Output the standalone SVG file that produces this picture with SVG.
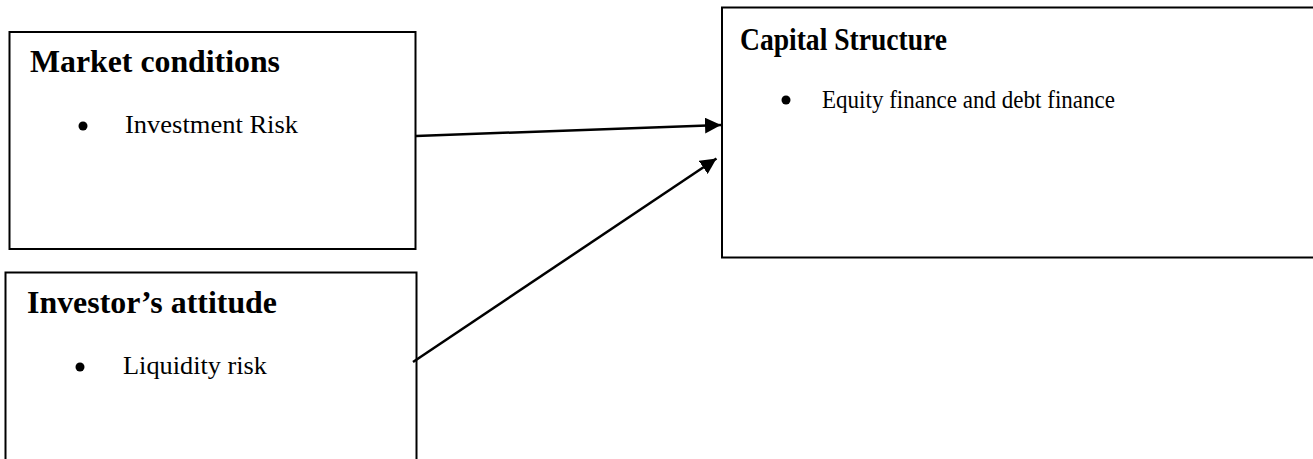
<svg xmlns="http://www.w3.org/2000/svg" width="1313" height="459" viewBox="0 0 1313 459">
<defs>
<style>
.box{fill:#fff;stroke:#000;stroke-width:2}
.h{font-family:"Liberation Serif","Times New Roman",serif;font-weight:bold;font-size:31px;fill:#000}
.b{font-family:"Liberation Serif","Times New Roman",serif;font-size:26px;fill:#000}
.conn{stroke:#000;stroke-width:2.5;fill:none}
</style>
<marker id="ah" viewBox="0 0 10 10" refX="10" refY="5" markerUnits="userSpaceOnUse" markerWidth="16" markerHeight="16" orient="auto">
<path d="M0,0 L10,5 L0,10 z" fill="#000"/>
</marker>
</defs>
<rect width="1313" height="459" fill="#fff"/>
<g id="market">
<rect class="box" x="9.5" y="32" width="406" height="217"/>
<text class="h" x="30" y="72" textLength="250" lengthAdjust="spacingAndGlyphs">Market conditions</text>
<circle cx="83" cy="126" r="4.5" fill="#000"/>
<text class="b" x="125" y="133" textLength="173" lengthAdjust="spacingAndGlyphs">Investment Risk</text>
</g>
<g id="investor">
<rect class="box" x="5.5" y="272.5" width="411" height="200"/>
<text class="h" x="27" y="313" textLength="250" lengthAdjust="spacingAndGlyphs">Investor’s attitude</text>
<circle cx="80" cy="367" r="4.5" fill="#000"/>
<text class="b" x="123" y="374" textLength="144" lengthAdjust="spacingAndGlyphs">Liquidity risk</text>
</g>
<g id="capital">
<rect class="box" x="722" y="7.5" width="620" height="250"/>
<text class="h" x="740" y="50" textLength="207" lengthAdjust="spacingAndGlyphs">Capital Structure</text>
<circle cx="786" cy="100" r="4.5" fill="#000"/>
<text class="b" x="822" y="108" textLength="293" lengthAdjust="spacingAndGlyphs">Equity finance and debt finance</text>
</g>
<g id="connectors">
<line class="conn" x1="416" y1="136" x2="721" y2="125" marker-end="url(#ah)"/>
<line class="conn" x1="413" y1="362" x2="716.5" y2="158.5" marker-end="url(#ah)"/>
</g>
</svg>
